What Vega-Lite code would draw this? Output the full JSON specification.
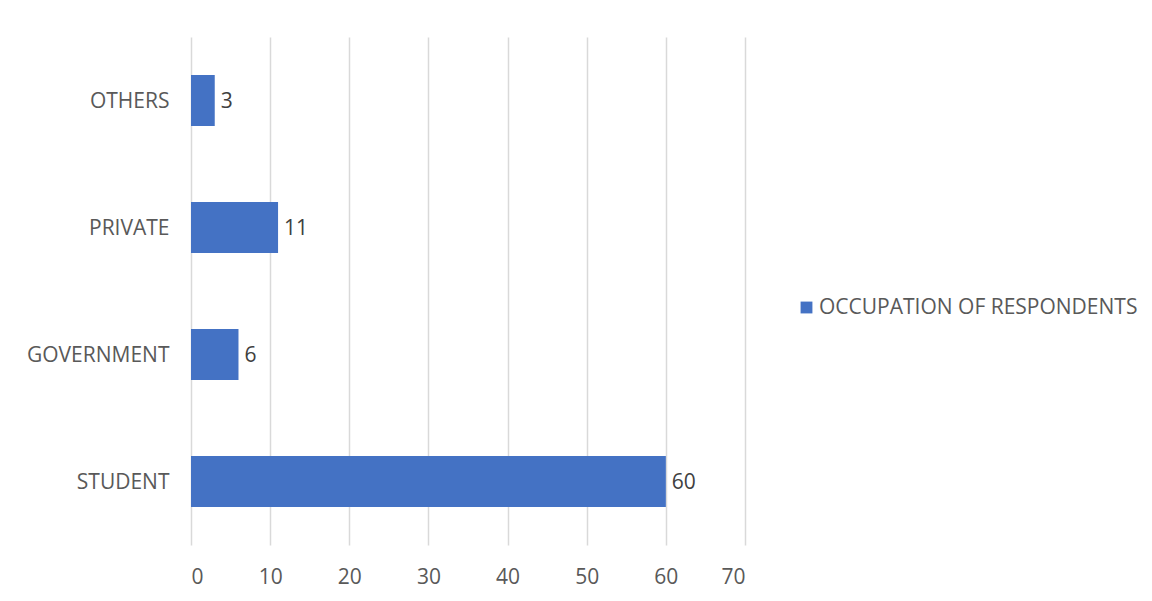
{
  "$schema": "https://vega.github.io/schema/vega-lite/v6.json",
  "autosize": "none",
  "width": 554,
  "height": 508,
  "padding": {"left": 191, "top": 37, "right": 407, "bottom": 56},
  "background": "white",
  "data": {
    "values": [
      {"occupation": "OTHERS", "count": 3, "series": "OCCUPATION OF RESPONDENTS"},
      {"occupation": "PRIVATE", "count": 11, "series": "OCCUPATION OF RESPONDENTS"},
      {"occupation": "GOVERNMENT", "count": 6, "series": "OCCUPATION OF RESPONDENTS"},
      {"occupation": "STUDENT", "count": 60, "series": "OCCUPATION OF RESPONDENTS"}
    ]
  },
  "encoding": {
    "y": {
      "field": "occupation",
      "type": "nominal",
      "sort": ["OTHERS", "PRIVATE", "GOVERNMENT", "STUDENT"],
      "scale": {"paddingInner": 0.6, "paddingOuter": 0.3},
      "axis": {
        "title": null,
        "domain": false,
        "ticks": false,
        "grid": false,
        "labelPadding": 22,
        "labelFont": "Open Sans",
        "labelFontSize": 21,
        "labelColor": "#595959",
        "labelLimit": 300,
        "labelOffset": 1
      }
    },
    "x": {
      "field": "count",
      "type": "quantitative",
      "scale": {"domain": [0, 70], "nice": false},
      "axis": {
        "title": null,
        "values": [0, 10, 20, 30, 40, 50, 60, 70],
        "domain": false,
        "ticks": false,
        "grid": true,
        "gridColor": "#d9d9d9",
        "gridWidth": 1.5,
        "labelPadding": 21,
        "labelFont": "Open Sans",
        "labelFontSize": 21,
        "labelColor": "#595959"
      }
    }
  },
  "layer": [
    {
      "mark": {"type": "bar", "color": "#4472C4"},
      "encoding": {
        "color": {
          "field": "series",
          "type": "nominal",
          "scale": {"range": ["#4472C4"]},
          "legend": {
            "title": null,
            "orient": "none",
            "legendX": 605,
            "legendY": 260,
            "symbolType": "square",
            "symbolSize": 140,
            "symbolStrokeWidth": 0,
            "labelFont": "Open Sans",
            "labelFontSize": 21,
            "labelColor": "#595959",
            "labelOffset": 2,
            "labelLimit": 500
          }
        }
      }
    },
    {
      "mark": {
        "type": "text",
        "align": "left",
        "baseline": "middle",
        "dx": 6,
        "dy": 1,
        "font": "Open Sans",
        "fontSize": 21,
        "color": "#404040"
      },
      "encoding": {"text": {"field": "count", "type": "quantitative"}}
    }
  ],
  "config": {"view": {"stroke": null}}
}
